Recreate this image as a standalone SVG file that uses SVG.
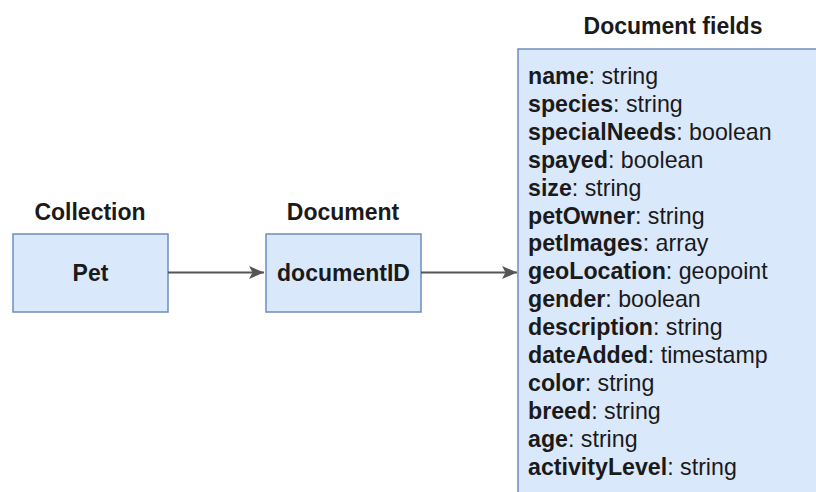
<svg xmlns="http://www.w3.org/2000/svg" width="816" height="492" viewBox="0 0 816 492">
  <style>
    .box { fill: #dae8fc; stroke: #6c8ebf; stroke-width: 1.5; }
    .label { font-family: "Liberation Sans", Arial, sans-serif; font-size: 23px; font-weight: bold; fill: #1a1a1a; }
    .field { font-family: "Liberation Sans", Arial, sans-serif; font-size: 23.2px; fill: #1a1a1a; }
    .field tspan.k { font-weight: bold; }
    .edge { stroke: #555555; stroke-width: 2; fill: none; }
  </style>
  <defs>
    <marker id="arrow" markerUnits="userSpaceOnUse" markerWidth="18" markerHeight="16" refX="16" refY="8" orient="auto">
      <path d="M1,1.5 L16,8 L1,14.5 L4.5,8 Z" fill="#555555"/>
    </marker>
  </defs>
  <rect width="816" height="492" fill="#ffffff"/>

  <g id="collection">
    <text class="label" x="90" y="219.5" text-anchor="middle">Collection</text>
    <rect class="box" x="13" y="234" width="155" height="78"/>
    <text class="label" x="90.5" y="281" text-anchor="middle">Pet</text>
  </g>

  <g id="document">
    <text class="label" x="343" y="219.5" text-anchor="middle">Document</text>
    <rect class="box" x="266" y="234" width="155" height="78"/>
    <text class="label" x="343.5" y="281" text-anchor="middle">documentID</text>
  </g>

  <g id="document-fields">
    <text class="label" x="673" y="34" text-anchor="middle">Document fields</text>
    <rect class="box" x="518" y="49" width="320" height="460"/>
    <text class="field" x="528" y="84">
      <tspan class="k">name</tspan>: string
      <tspan x="528" dy="27.9" class="k">species</tspan>: string
      <tspan x="528" dy="27.9" class="k">specialNeeds</tspan>: boolean
      <tspan x="528" dy="27.9" class="k">spayed</tspan>: boolean
      <tspan x="528" dy="27.9" class="k">size</tspan>: string
      <tspan x="528" dy="27.9" class="k">petOwner</tspan>: string
      <tspan x="528" dy="27.9" class="k">petImages</tspan>: array
      <tspan x="528" dy="27.9" class="k">geoLocation</tspan>: geopoint
      <tspan x="528" dy="27.9" class="k">gender</tspan>: boolean
      <tspan x="528" dy="27.9" class="k">description</tspan>: string
      <tspan x="528" dy="27.9" class="k">dateAdded</tspan>: timestamp
      <tspan x="528" dy="27.9" class="k">color</tspan>: string
      <tspan x="528" dy="27.9" class="k">breed</tspan>: string
      <tspan x="528" dy="27.9" class="k">age</tspan>: string
      <tspan x="528" dy="27.9" class="k">activityLevel</tspan>: string
    </text>
  </g>

  <g id="connectors">
    <line class="edge" x1="168" y1="272.5" x2="264" y2="272.5" marker-end="url(#arrow)"/>
    <line class="edge" x1="421" y1="272.5" x2="517" y2="272.5" marker-end="url(#arrow)"/>
  </g>
</svg>
